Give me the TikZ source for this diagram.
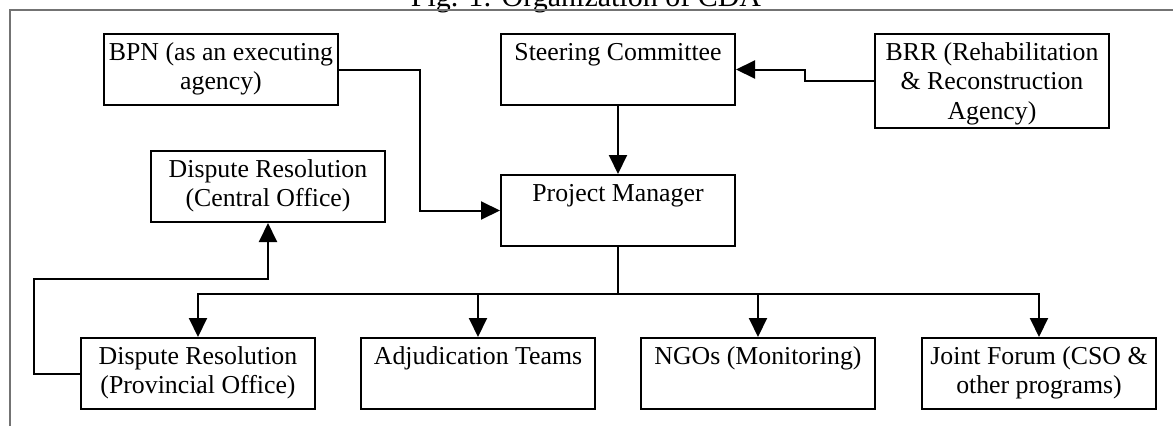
\documentclass[tikz,border=0pt]{standalone}
\usepackage{fontspec}
\setmainfont{Liberation Serif}
\usetikzlibrary{arrows.meta,calc}
\begin{document}
\begin{tikzpicture}[x=1pt,y=1pt,
  box/.style={draw=black, line width=2pt, minimum width=234pt, inner xsep=0pt, inner ysep=0pt,
    text height=26pt, text depth=45pt, align=center, anchor=north,
    font=\fontsize{25.8}{29.7}\selectfont},
  twobox/.style={box, text height=55.7pt, text depth=15.3pt},
  threebox/.style={box, text height=85.4pt, text depth=8.6pt},
  conn/.style={line width=2pt, black},
  arr/.style={conn, -{Triangle[length=19pt,width=18pt]}},
  frameline/.style={draw=black!55, line width=1.5pt}]
\useasboundingbox (0,0) rectangle (1173,-426);
\node[anchor=base, font=\fontsize{30}{36}\selectfont] (title) at (586,-6) {Fig. 1: Organization of CDA};
\draw[frameline] (10,-426) -- (10,-10) -- (1173,-10);

\node[twobox] (bpn) at (221,-33) {BPN (as an executing\\agency)};
\node[box] (steer) at (618,-33) {Steering Committee};
\node[threebox] (brr) at (992,-33) {BRR (Rehabilitation\\\& Reconstruction\\Agency)};
\node[twobox] (central) at (268,-150) {Dispute Resolution\\(Central Office)};
\node[box] (pm) at (618,-174) {Project Manager};
\node[twobox] (prov) at (198,-337) {Dispute Resolution\\(Provincial Office)};
\node[box] (adj) at (478,-337) {Adjudication Teams};
\node[box] (ngo) at (758,-337) {NGOs (Monitoring)};
\node[twobox] (joint) at (1039,-337) {Joint Forum (CSO \&\\other programs)};

\coordinate (bus) at ($(pm.south)+(0,-47)$);
\coordinate (loopL) at (34,-279);

\draw[arr] (bpn.east) -| ($(bpn.east)!0.5!(pm.west)$) |- (pm.west);
\draw[arr] (brr.west) -| ($(steer.east)!0.5!(brr.west)$) |- (steer.east);
\draw[arr] (steer.south) -- (pm.north);
\draw[conn] (pm.south) -- (bus);
\draw[arr] (bus) -| (prov.north);
\draw[arr] (bus) -| (adj.north);
\draw[arr] (bus) -| (ngo.north);
\draw[arr] (bus) -| (joint.north);
\draw[arr] (prov.west) -| (loopL) -| (central.south);
\end{tikzpicture}
\end{document}
